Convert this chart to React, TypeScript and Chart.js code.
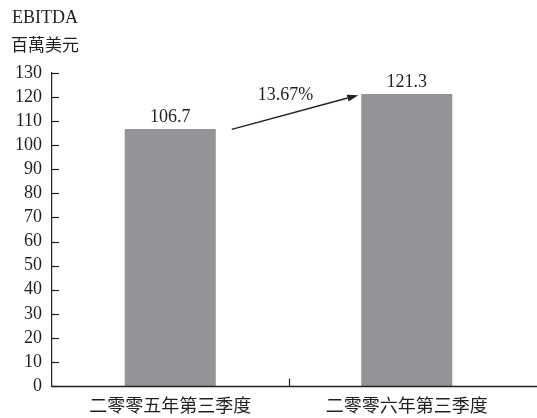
import React, { useEffect, useRef } from "react";
import { Chart, registerables } from "chart.js";

Chart.register(...registerables);

const categories = ["二零零五年第三季度", "二零零六年第三季度"];
const ebitdaValues = [106.7, 121.3];
const valueLabels = ["106.7", "121.3"];
const growthLabel = "13.67%";
const titleLines = ["EBITDA", "百萬美元"];
const yTickMax = 130;
const yTickStep = 10;
const arrowStartValue = 106.6;
const arrowEndValue = 120.8;

const SERIF = "'Liberation Serif', 'Times New Roman', serif";
const CJK = "'Noto Sans CJK TC', 'Noto Sans CJK SC', sans-serif";
const TEXT = "#231f20";

const annotatePlugin = {
  id: "annotate",
  afterDraw(chart: any) {
    const ctx = chart.ctx as CanvasRenderingContext2D;
    const xs = chart.scales.x;
    const ys = chart.scales.y;
    const area = chart.chartArea;
    ctx.save();
    // titles
    ctx.fillStyle = TEXT;
    ctx.textAlign = "left";
    ctx.textBaseline = "middle";
    ctx.font = `18px ${SERIF}`;
    ctx.fillText(titleLines[0], 12, 18);
    ctx.font = `17px ${CJK}`;
    ctx.fillText(titleLines[1], 11, 45);

    // y ticks (inside)
    ctx.strokeStyle = "#231f20";
    ctx.lineWidth = 1.2;
    for (let v = 0; v <= yTickMax; v += yTickStep) {
      const y = Math.round(ys.getPixelForValue(v)) + 0.5;
      ctx.beginPath();
      ctx.moveTo(area.left, y);
      ctx.lineTo(area.left + 7, y);
      ctx.stroke();
    }
    // x axis line extended to edge
    const yb = Math.round(ys.getPixelForValue(0)) + 0.5;
    ctx.lineWidth = 1.4;
    ctx.beginPath();
    ctx.moveTo(area.left, yb);
    ctx.lineTo(chart.width, yb);
    ctx.stroke();
    // middle tick between categories
    const xMid = Math.round((xs.getPixelForValue(0) + xs.getPixelForValue(1)) / 2) + 0.5;
    ctx.lineWidth = 1.2;
    ctx.beginPath();
    ctx.moveTo(xMid, yb);
    ctx.lineTo(xMid, yb - 8);
    ctx.stroke();

    // value labels
    const meta = chart.getDatasetMeta(0);
    ctx.font = `18px ${SERIF}`;
    ctx.textAlign = "center";
    ctx.textBaseline = "bottom";
    meta.data.forEach((bar: any, i: number) => {
      ctx.fillText(valueLabels[i], bar.x, bar.y - 3);
    });

    // arrow
    const catW = xs.getPixelForValue(1) - xs.getPixelForValue(0);
    const x1 = xs.getPixelForValue(0) + catW * 0.26;
    const y1 = ys.getPixelForValue(arrowStartValue);
    const x2 = xs.getPixelForValue(1) - catW * 0.205;
    const y2 = ys.getPixelForValue(arrowEndValue);
    const ang = Math.atan2(y2 - y1, x2 - x1);
    const headLen = 11;
    const headW = 3.5;
    const bx = x2 - headLen * Math.cos(ang);
    const by = y2 - headLen * Math.sin(ang);
    ctx.lineWidth = 1.4;
    ctx.beginPath();
    ctx.moveTo(x1, y1);
    ctx.lineTo(bx, by);
    ctx.stroke();
    ctx.fillStyle = "#231f20";
    ctx.beginPath();
    ctx.moveTo(x2, y2);
    ctx.lineTo(bx + headW * Math.sin(ang), by - headW * Math.cos(ang));
    ctx.lineTo(bx - headW * Math.sin(ang), by + headW * Math.cos(ang));
    ctx.closePath();
    ctx.fill();

    // growth label
    ctx.fillStyle = TEXT;
    ctx.textBaseline = "middle";
    ctx.fillText(growthLabel, xs.getPixelForValue(0) + catW * 0.487, ys.getPixelForValue(120.7));
    ctx.restore();
  },
};

export default function App() {
  const ref = useRef<HTMLCanvasElement>(null);
  useEffect(() => {
    document.body.style.margin = "0";
    const chart = new Chart(ref.current!, {
      type: "bar",
      data: {
        labels: categories,
        datasets: [
          {
            data: ebitdaValues,
            backgroundColor: "#929497",
            barPercentage: 0.385,
            categoryPercentage: 1,
          },
        ],
      },
      options: {
        animation: false,
        responsive: false,
        devicePixelRatio: 1,
        layout: { padding: { top: 73, right: 12, left: 0, bottom: 0 } },
        plugins: { legend: { display: false }, tooltip: { enabled: false } },
        scales: {
          x: {
            grid: { display: false },
            border: { display: false },
            ticks: { font: { family: CJK, size: 18, lineHeight: 1 }, color: TEXT, padding: 2, maxRotation: 0, autoSkip: false },
            afterFit: (s: any) => {
              s.height = 32;
            },
          },
          y: {
            min: 0,
            max: yTickMax,
            grid: { display: false },
            border: { display: true, color: "#231f20", width: 1.2 },
            ticks: {
              stepSize: yTickStep,
              autoSkip: false,
              font: { family: SERIF, size: 18 },
              color: TEXT,
              padding: 2,
            },
            afterFit: (s: any) => {
              s.width = 52;
            },
          },
        },
      },
      plugins: [annotatePlugin],
    });
    return () => chart.destroy();
  }, []);
  return (
    <div style={{ width: 537, height: 418 }}>
      <canvas ref={ref} width={537} height={418} />
    </div>
  );
}
